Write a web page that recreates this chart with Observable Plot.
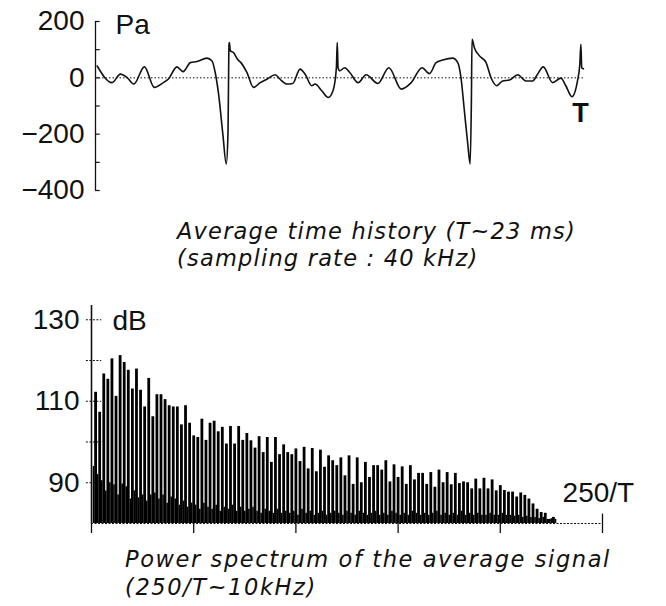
<!DOCTYPE html>
<html><head><meta charset="utf-8">
<script src="https://cdn.jsdelivr.net/npm/d3@7"></script>
<script src="https://cdn.jsdelivr.net/npm/@observablehq/plot@0.6"></script>
<style>
body{margin:0;background:#fff;}
#root{position:relative;width:666px;height:606px;overflow:hidden;background:#fff;}
.chart{position:absolute;left:0;}
.cap{position:absolute;font-family:"DejaVu Sans",sans-serif;font-style:oblique;font-size:22.5px;line-height:27px;color:#111;white-space:nowrap;}
</style></head><body><div id="root"></div>
<script>
// ---- Top: average time history (ms, Pa)
const timeMs = [0.08,0.78,1.17,1.49,1.80,2.30,2.77,3.19,3.43,3.83,4.12,4.46,4.77,5.24,5.48,5.63,5.79,5.99,6.15,6.23,6.28,6.30,6.34,6.49,6.68,6.84,7.12,7.43,7.75,8.06,8.45,8.68,9.00,9.28,9.62,9.86,10.17,10.33,10.64,10.95,11.17,11.33,11.37,11.41,11.49,11.72,11.96,12.35,12.73,13.28,13.80,14.38,14.85,15.36,15.71,16.02,16.33,16.80,17.04,17.19,17.35,17.51,17.62,17.68,17.71,17.82,18.06,18.37,18.60,18.87,19.15,19.47,19.86,20.24,20.56,20.79,21.06,21.50,21.89,22.12,22.41,22.67,22.78,22.83,22.87,22.95];
const pressurePa = [42,-17,13,1,-22,39,-34,-17,-4,39,22,54,58,70,60,19,-58,-200,-306,-200,119,125,96,90,66,54,19,-34,-17,-5,11,-5,-22,-20,31,13,-28,-22,-46,-70,-46,36,125,36,25,36,19,-17,11,-20,36,-40,-17,36,15,54,63,70,54,1,-117,-235,-306,-81,137,107,78,54,1,-28,-11,-8,11,-11,-11,13,39,-17,-1,-28,-67,-11,48,119,36,32];
const pressureTicks = [200,0,-200,-400];
const pressureMinorTicks = [200,100,0,-100,-200,-300,-400];

// ---- Bottom: power spectrum (harmonic number of 1/T, dB)
const spectrumTicks = [0,50,100,150,200,250];
const dbTicks = [130,110,90];
const dbMinorTicks = [130,120,110,100,90];
// even harmonics n = 2,4,6,...
const levelEven = [112.2,107.3,116.7,115.4,120.4,111.2,121.2,119.5,117.6,113,117.9,112.7,108.6,115.6,106.2,111.6,111.6,110.4,108.9,108.6,
 108.6,104.2,108.9,104.6,101.5,101.1,105.6,100.4,104.6,105.1,102.5,103.6,99.5,103.8,99.5,103.8,100.4,102.1,100.3,98.5,
 101.3,97.4,101.1,95.0,101.1,96.9,99.3,97.4,96.9,98.3,95.2,98.7,93.4,98.4,92.7,98.0,93.8,96.6,95.4,94.2,
 96.1,91.7,96.6,89.6,96.1,90.0,95.0,91.3,94.2,94.2,93.1,95.4,90.2,94.4,91.3,93.9,89.6,94.2,90.7,92.3,
 92.3,89.6,92.5,88.9,93.1,90.0,92.5,89.5,92.3,89.8,90.2,90.0,88.5,90.9,88.5,91.1,88.5,90.7,88.0,89.3,
 88.1,87.7,87.7,86.5,87.5,86.9,86.0,84.8,83.5,82.7,82.5,81.0,81.5];
// odd harmonics n = 1,3,5,...
const levelOdd = [94,92,90.5,88,90,89.5,87,89.7,89,86,88,86.3,87,85.5,87,87.5,86,87,85,86.5,
 86,84.5,85.5,84,85,84.5,83.5,85,84,83.5,84.5,83,84,83.5,84.5,83,84,83,83.5,84,
 83,82.5,83.5,83,82.5,83.5,82.5,83,82.5,83,82,83.5,82.5,83,82,82.5,83,82,82.5,83,
 82.5,82,83,82.5,82,83,82.5,82,82.5,83,82,82.5,82,83,82.5,82,82.5,82,83,82.5,
 82,82.5,82,82.5,83,82,82.5,82,82.5,82,83,82,82.5,82,82.5,82,82,82.5,82,82,
 82.5,82,82,81.8,82,81.5,81.8,81.5,81.5,81.2,81.5,81,81.2,81];

const root = document.getElementById("root");
const NUM_FONT = "'Liberation Sans', Arial, sans-serif";
const INK = "#111";

const signal = timeMs.map((t, i) => ({t, p: pressurePa[i]}));
const topChart = Plot.plot({
  width: 666, height: 200,
  marginLeft: 95, marginRight: 82, marginTop: 21, marginBottom: 10,
  x: {domain: [0, 23], axis: null},
  y: {domain: [-400, 200], axis: null},
  style: {fontFamily: NUM_FONT, fontSize: "28px", color: INK, background: "transparent", overflow: "visible"},
  marks: [
    Plot.axisY(pressureTicks, {tickSize: 0, tickPadding: 11, fontSize: 28, label: null}),
    Plot.ruleX([0], {y1: -400, y2: 200, stroke: INK, strokeWidth: 1.3}),
    Plot.ruleY(pressureMinorTicks, {x1: 0, x2: 0.22, stroke: INK, strokeWidth: 1.2}),
    Plot.ruleY([0], {x1: 0, x2: 23, stroke: INK, strokeWidth: 1, strokeDasharray: "1.5,2"}),
    Plot.line(signal, {x: "t", y: "p", curve: "monotone-x", stroke: INK, strokeWidth: 1.6}),
    Plot.text(["Pa"], {x: 0, y: 200, dx: 20, dy: 4, textAnchor: "start", fontSize: 28, fill: INK}),
    Plot.text(["T"], {x: 22.81, y: -127, fontSize: 27, fontWeight: "bold", fill: INK})
  ]
});
topChart.classList.add("chart");
topChart.style.top = "0px";
root.appendChild(topChart);

const evenData = levelEven.map((v, i) => ({n: 2 + 2 * i, v}));
const oddData = levelOdd.map((v, i) => ({n: 1 + 2 * i, v}));
const bottomChart = Plot.plot({
  width: 666, height: 260,
  marginLeft: 91, marginRight: 64, marginTop: 15, marginBottom: 27,
  x: {domain: [0, 250], axis: null},
  y: {domain: [80, 133.5], axis: null},
  style: {fontFamily: NUM_FONT, fontSize: "28px", color: INK, background: "transparent", overflow: "visible"},
  marks: [
    Plot.ruleX(oddData, {x: "n", y1: 80, y2: "v", stroke: "#000", strokeWidth: 1.6}),
    Plot.ruleX(evenData, {x: "n", y1: 80, y2: "v", stroke: "#000", strokeWidth: 2.8}),
    Plot.ruleX([0], {y1: 80, y2: 133.5, stroke: INK, strokeWidth: 1.6}),
    Plot.ruleY([80], {x1: 0, x2: 250, stroke: INK, strokeWidth: 1.2, strokeDasharray: "2,1.5"}),
    Plot.axisX(spectrumTicks, {tickSize: 10, tickFormat: () => "", stroke: INK, strokeWidth: 1.3, label: null}),
    Plot.ruleX([250], {y1: 80, y2: 82.3, stroke: INK, strokeWidth: 1.3}),
    Plot.axisY(dbTicks, {tickSize: 0, tickPadding: 12, fontSize: 28, label: null}),
    Plot.ruleY(dbMinorTicks, {x1: -2.5, x2: 5, stroke: INK, strokeWidth: 1, strokeDasharray: "2,1.5"}),
    Plot.text(["dB"], {x: 0, y: 130, dx: 21, dy: 1, textAnchor: "start", fontSize: 28, fill: INK}),
    Plot.text(["250/T"], {x: 248, y: 87.5, fontSize: 28, fill: INK})
  ]
});
bottomChart.classList.add("chart");
bottomChart.style.top = "290px";
root.appendChild(bottomChart);

function captionLine(text, left, top, spacing) {
  const d = document.createElement("div");
  d.className = "cap";
  d.style.left = left + "px";
  d.style.top = top + "px";
  d.style.letterSpacing = spacing + "px";
  d.textContent = text;
  root.appendChild(d);
}
captionLine("Average time history (T~23 ms)", 177, 218, 1.2);
captionLine("(sampling rate : 40 kHz)", 177, 245, 1.2);
captionLine("Power spectrum of the average signal", 125, 546, 1.6);
captionLine("(250/T~10kHz)", 125, 574, 1.6);
</script>
</body></html>
